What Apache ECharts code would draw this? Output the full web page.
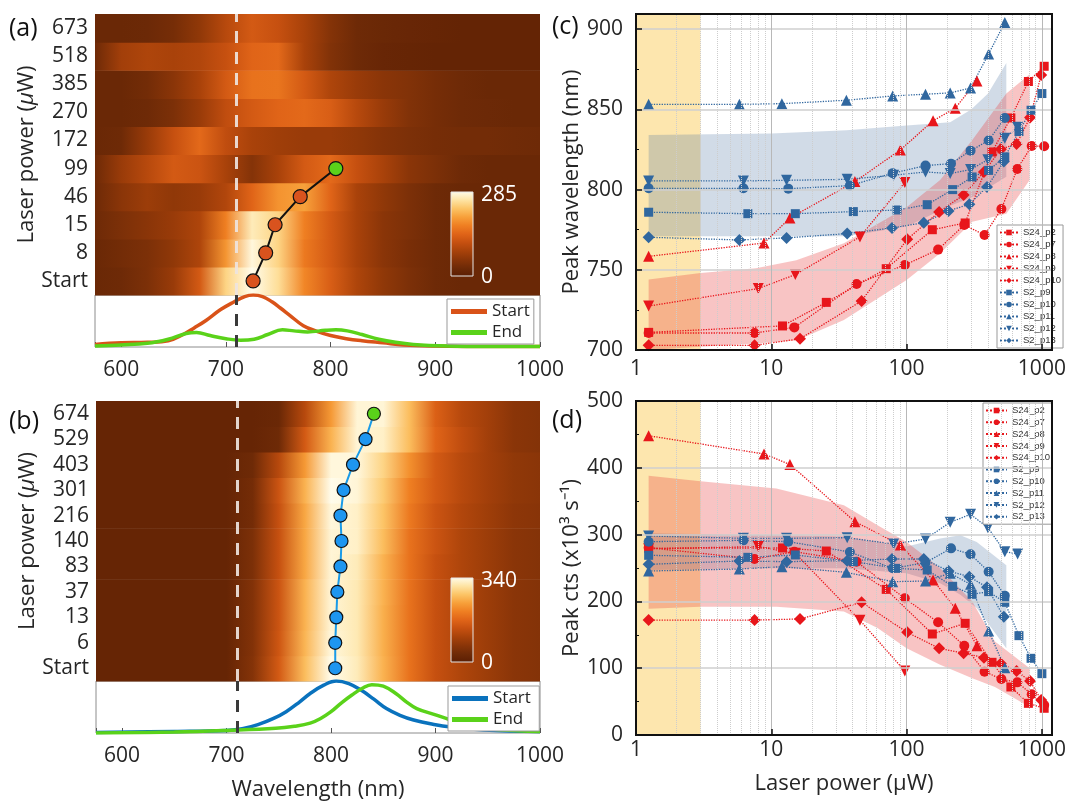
<!DOCTYPE html>
<html><head><meta charset="utf-8">
<script src="https://cdn.jsdelivr.net/npm/echarts/dist/echarts.min.js"></script>
<style>html,body{margin:0;padding:0;background:#fff}#chart{width:1068px;height:802px}</style>
</head><body><div id="chart"></div>
<script>
// ---------------- DATA ----------------
const WAVE = [575,600,625,650,675,700,725,750,775,800,825,850,875,900,925,950,975,1000];
// Panel (a): rows bottom -> top, intensity (cts) at WAVE samples
const ROWS_A = ['Start','8','15','46','99','172','270','385','518','673'];
const HEAT_A = [
  [23,29,43,71,128,242,285,251,177,134,91,63,43,29,23,23,23,23],
  [23,34,43,63,91,190,279,242,165,128,86,57,40,29,23,23,23,23],
  [29,43,57,71,91,171,265,242,171,128,86,57,43,29,23,23,23,23],
  [29,57,74,63,71,94,143,188,200,143,86,63,43,29,23,23,23,23],
  [29,71,100,128,120,86,51,86,128,148,114,86,57,43,29,23,23,23],
  [23,29,71,114,148,108,86,77,71,71,63,51,43,37,34,34,31,29],
  [23,23,29,43,71,108,128,143,148,134,100,71,48,37,29,26,23,23],
  [23,23,34,57,86,128,157,160,128,91,71,57,48,37,29,23,23,23],
  [29,80,91,86,94,114,143,148,86,48,29,20,17,14,14,14,14,14],
  [23,23,26,37,63,100,128,114,86,51,29,23,20,17,14,14,14,14]
];
const HEAT_A_MAX = 285;
// Panel (b)
const ROWS_B = ['Start','6','13','37','83','140','216','301','403','529','674'];
const HEAT_B = [
  [20,20,20,20,20,20,61,153,265,340,316,255,187,136,109,88,68,61],
  [20,20,20,20,20,20,58,146,258,333,313,252,187,136,109,88,68,61],
  [20,20,20,20,20,20,58,143,255,330,313,252,187,136,109,88,68,61],
  [20,20,20,20,20,20,58,143,255,330,313,255,187,136,109,88,68,61],
  [20,20,20,20,20,20,51,136,245,330,316,255,187,136,109,88,68,61],
  [20,20,20,20,20,20,51,136,245,330,323,265,187,143,109,88,68,61],
  [20,20,20,20,20,20,41,136,245,333,323,272,197,143,112,92,71,65],
  [20,20,20,20,20,20,41,143,255,340,330,279,204,153,119,95,75,68],
  [20,20,20,20,20,20,34,119,231,333,333,289,221,153,119,95,75,68],
  [20,20,20,20,20,20,20,34,153,255,330,323,265,170,129,95,68,61],
  [20,20,20,20,20,20,20,27,119,231,330,330,265,163,119,95,68,61]
];
const HEAT_B_MAX = 340;
// Peak markers on the maps
const MARK_A_WL = [726,738,747,771,805];
const MARK_B_WL = [804,804,805,806,809,810,809,812,821,833,841];
const DASH_WL = 710;
// Normalised spectra under the maps
const SPEC_A_START_WL = [575,600,625,645,660,670,681,695,708,718,726,735,744,752,761,774,787,800,815,830,850,870,900,950,1000];
const SPEC_A_START = [0.05,0.08,0.09,0.12,0.25,0.37,0.51,0.72,0.87,0.97,1.0,0.97,0.87,0.75,0.61,0.41,0.3,0.22,0.16,0.12,0.08,0.04,0.02,0.01,0.01];
const SPEC_A_END_WL = [575,600,625,645,662,672,685,700,714,727,740,754,765,778,795,805,816,830,846,862,879,912,950,1000];
const SPEC_A_END = [0.02,0.04,0.07,0.15,0.26,0.28,0.22,0.16,0.13,0.15,0.24,0.33,0.31,0.29,0.32,0.33,0.31,0.24,0.15,0.09,0.05,0.02,0.01,0.01];
const SPEC_B_START_WL = [575,650,700,715,730,745,757,770,780,793,805,817,829,841,853,866,879,900,913,946,1000];
const SPEC_B_START = [0.01,0.03,0.05,0.08,0.16,0.28,0.41,0.6,0.76,0.92,1.0,0.95,0.82,0.65,0.47,0.34,0.25,0.16,0.12,0.06,0.03];
const SPEC_B_END_WL = [575,650,700,747,765,780,790,800,810,820,830,839,850,862,872,882,900,913,928,945,961,1000];
const SPEC_B_END = [0.0,0.02,0.05,0.09,0.13,0.19,0.28,0.41,0.58,0.73,0.86,0.93,0.9,0.76,0.6,0.47,0.35,0.26,0.19,0.12,0.06,0.03];

// Panels (c)/(d): laser power (uW), peak wavelength (nm), peak cts (x10^3 s^-1)
const S24_p2_P   = [1.24,12.1,25.5,70.7,155,271,428,590,795,1040];
const S24_p2_WL  = [711,715,729.7,750.7,775,779.2,823.5,844.7,867.4,876.9];
const S24_p2_CTS = [279.4,280,275.4,218,151.2,167.2,108.8,71.9,47.4,40];
const S24_p7_P   = [1.24,7.52,14.8,42.7,97,171,267,377,502,658,841,1040];
const S24_p7_WL  = [710.6,710.6,714.1,741.2,753,762.6,778,771.7,787.9,812.9,827.2,827];
const S24_p7_CTS = [280.4,263.5,274.5,259.5,204.6,168.7,133.7,94.8,83.8,78.8,60.9,44.9];
const S24_p8_P   = [1.24,8.83,13.74,41.5,90,157,229,331];
const S24_p8_WL  = [758.4,766.7,782.3,805,824.7,843,850.7,867.8];
const S24_p8_CTS = [448,420.7,405,319.4,284.4,232,189.6,133.7];
const S24_p9_P   = [1.24,8.01,15.05,45.2,97];
const S24_p9_WL  = [727.4,738.3,747,770.5,804.4];
const S24_p9_CTS = [279,282,272,171.7,95.8];
const S24_p10_P   = [1.24,7.52,16.3,46.5,101,174,264,373,497,650,818,988];
const S24_p10_WL  = [702.9,702.9,707,730.6,769,786.1,796.7,811,825.2,828.5,845,871.5];
const S24_p10_CTS = [172,172,173.7,198.6,153.7,129.7,122.3,115.8,107,95.8,80.8,52.4];
const S2_p9_P   = [1.24,6.71,15.05,40.4,85,142,219,305,404,532,677,832,1000];
const S2_p9_WL  = [785.9,785,785,786.3,787.3,790.6,800,807.9,812,820.4,836.2,849.5,859.9];
const S2_p9_CTS = [269,266,269.5,259.5,249.5,247,222.6,210.6,214.6,198.6,148.7,114.8,91.8];
const S2_p10_P   = [1.24,6.22,13.35,38.1,78.9,138,213,297,404,532];
const S2_p10_WL  = [800.8,800.8,800.6,802.5,810.2,815,816.2,824.3,830.6,844.7];
const S2_p10_CTS = [289.4,291.4,289.4,274,249.5,258,279.4,270.5,244.5,208.6];
const S2_p11_P   = [1.24,5.81,11.97,35.9,78.9,138,210,297,404,532];
const S2_p11_WL  = [853.2,853.2,853.6,855.7,858.4,859.5,860.3,863.4,884.6,904.2];
const S2_p11_CTS = [245.5,248.5,252,243.5,229.5,230.5,242,225.5,155.7,100.8];
const S2_p12_P   = [1.24,6.22,12.97,36.4,80.2,138,210,297,399,532,662];
const S2_p12_WL  = [805.4,805.4,805.8,806.4,809,811,810,812.5,818.7,832,838.9];
const S2_p12_CTS = [297.9,294.4,294.4,295.4,285.9,293.4,318.4,330.3,310.4,274.5,271];
const S2_p13_P   = [1.24,5.81,12.97,36.4,78,134,204,291,393,523];
const S2_p13_WL  = [770.3,768.6,769.9,772.6,776.1,779.4,786.7,790.9,801.7,817.5];
const S2_p13_CTS = [255.5,260.5,259.5,261,263.5,263.5,245.5,237,221,177];
// Shaded spreads
const BAND_C_RED_P  = [1.24,3,7.7,15.3,34.4,100,177,306,546,812];
const BAND_C_RED_LO = [700,702,704,706,718.7,743.7,760.3,780,785,806];
const BAND_C_RED_HI = [744,748,751,756,766.5,789,806,831,860,872];
const BAND_C_BLUE_P  = [1.24,10,36,100,210,300,400,546];
const BAND_C_BLUE_LO = [771,771,771,777,790,795,801,808];
const BAND_C_BLUE_HI = [834,835,837,840,842,850,860,879];
const BAND_D_RED_P  = [1.24,3,10.9,34.4,61,100,177,306,450,812];
const BAND_D_RED_LO = [189,192,192,185,160,130,105,85,72,42];
const BAND_D_RED_HI = [388,380,369,344,314,289,250,200,140,100];
const BAND_D_BLUE_P  = [1.24,10.9,34.4,100,177,250,330,546];
const BAND_D_BLUE_LO = [247,249.5,249.5,242,227,210,190,130];
const BAND_D_BLUE_HI = [302,299,297,282,294,299,289,254];
const YELLOW_P = [1,3];
const X_MAJOR = [1,10,100,1000];

// ---------------- STYLE ----------------
const FONT = 'Open Sans';
const TXT = '#262626';
const RED = '#e8161b', BLUE = '#30679f';
const CMAP = [[0,'#5a1e03'],[0.1,'#6e2a07'],[0.2,'#8a3508'],[0.3,'#a8420a'],[0.4,'#c65010'],[0.5,'#e06418'],[0.6,'#ef7f22'],[0.7,'#f7a03a'],[0.8,'#fcc466'],[0.9,'#fee4a4'],[1,'#fffceb']];
function hex2rgb(h){return [parseInt(h.slice(1,3),16),parseInt(h.slice(3,5),16),parseInt(h.slice(5,7),16)];}
function cmap(f){
  f = Math.max(0, Math.min(1, f));
  for (let k = 1; k < CMAP.length; k++) {
    if (f <= CMAP[k][0]) {
      const t = (f - CMAP[k-1][0]) / (CMAP[k][0] - CMAP[k-1][0]);
      const a = hex2rgb(CMAP[k-1][1]), b = hex2rgb(CMAP[k][1]);
      return 'rgb(' + a.map((v,j) => Math.round(v + (b[j]-v)*t)).join(',') + ')';
    }
  }
  return CMAP[CMAP.length-1][1];
}
const W0 = WAVE[0], W1 = WAVE[WAVE.length-1];
function heatSeries(ax, rows, max){
  return {type:'custom', xAxisIndex:ax, yAxisIndex:ax, silent:true, z:1, animation:false,
    data: rows.map((r,i) => [W0, i]),
    renderItem: function(params, api){
      const i = params.dataIndex, row = rows[i];
      const p0 = api.coord([W0, i]), p1 = api.coord([W1, i]);
      const h = api.size([0,1])[1];
      return {type:'rect', shape:{x:p0[0], y:p0[1]-h/2, width:p1[0]-p0[0], height:h+0.6},
        style:{fill:{type:'linear', x:0, y:0, x2:1, y2:0,
          colorStops: WAVE.map((w,k) => ({offset:(w-W0)/(W1-W0), color:cmap(row[k]/max)}))}}};
    }};
}
function bandSeries(ax, P, lo, hi, color){
  return {type:'custom', xAxisIndex:ax, yAxisIndex:ax, silent:true, z:2, animation:false,
    data:[[P[0], lo[0]]],
    renderItem: function(params, api){
      const pts = [];
      for (let i = 0; i < P.length; i++) pts.push(api.coord([P[i], hi[i]]));
      for (let i = P.length-1; i >= 0; i--) pts.push(api.coord([P[i], lo[i]]));
      return {type:'polygon', shape:{points:pts}, style:{fill:color}};
    }};
}
const MINOR = [];
for (let d = 1; d <= 100; d *= 10) for (let m = 2; m <= 9; m++) MINOR.push(m*d);

const SER = [
  {name:'S24_p2', P:S24_p2_P, wl:S24_p2_WL, cts:S24_p2_CTS, color:RED, symbol:'rect', size:9},
  {name:'S24_p7', P:S24_p7_P, wl:S24_p7_WL, cts:S24_p7_CTS, color:RED, symbol:'circle', size:10},
  {name:'S24_p8', P:S24_p8_P, wl:S24_p8_WL, cts:S24_p8_CTS, color:RED, symbol:'triangle', size:11},
  {name:'S24_p9', P:S24_p9_P, wl:S24_p9_WL, cts:S24_p9_CTS, color:RED, symbol:'triangle', size:11, rot:180},
  {name:'S24_p10', P:S24_p10_P, wl:S24_p10_WL, cts:S24_p10_CTS, color:RED, symbol:'diamond', size:12},
  {name:'S2_p9', P:S2_p9_P, wl:S2_p9_WL, cts:S2_p9_CTS, color:BLUE, symbol:'rect', size:9},
  {name:'S2_p10', P:S2_p10_P, wl:S2_p10_WL, cts:S2_p10_CTS, color:BLUE, symbol:'circle', size:10},
  {name:'S2_p11', P:S2_p11_P, wl:S2_p11_WL, cts:S2_p11_CTS, color:BLUE, symbol:'triangle', size:11},
  {name:'S2_p12', P:S2_p12_P, wl:S2_p12_WL, cts:S2_p12_CTS, color:BLUE, symbol:'triangle', size:11, rot:180},
  {name:'S2_p13', P:S2_p13_P, wl:S2_p13_WL, cts:S2_p13_CTS, color:BLUE, symbol:'diamond', size:12}
];

// ---------------- AXES ----------------
const lbl = {fontSize:21, color:TXT, fontFamily:FONT};
function heatX(g){ return {type:'value', gridIndex:g, min:W0, max:W1, axisLabel:{show:false}, axisTick:{show:false}, axisLine:{show:false}, splitLine:{show:false}}; }
function specX(g, name){
  return {type:'value', gridIndex:g, min:W0, max:W1, splitNumber:5,
    axisLabel:Object.assign({margin:13, formatter:v => (v % 100 === 0 ? String(v) : '')}, lbl),
    axisTick:{inside:true, length:5, lineStyle:{color:'#555'}}, axisLine:{show:false}, splitLine:{show:false},
    name:name||'', nameLocation:'middle', nameGap:46, nameTextStyle:{fontSize:22, color:TXT, fontFamily:FONT}};
}
function heatY(g, rows){
  return {type:'category', gridIndex:g, data:rows,
    axisLabel:Object.assign({margin:7, interval:0}, lbl), axisTick:{show:false}, axisLine:{show:false},
    name:'Laser power ({i|\u03bc}W)', nameLocation:'middle', nameGap:56,
    nameTextStyle:{fontSize:22, color:TXT, fontFamily:FONT, rich:{i:{fontSize:22, fontStyle:'italic', color:TXT, fontFamily:FONT}}}};
}
function specY(g){ return {type:'value', gridIndex:g, min:0, max:1, show:false}; }
function logX(g, margin, name){
  return {type:'log', logBase:10, gridIndex:g, min:1, max:1188, z:5,
    axisLabel:Object.assign({margin:margin, formatter:v => (X_MAJOR.indexOf(Math.round(v)) >= 0 ? String(Math.round(v)) : '')}, lbl),
    axisTick:{inside:true, length:6, lineStyle:{color:'#111', width:1.5}},
    axisLine:{show:false},
    splitLine:{show:true, lineStyle:{color:'#b8b8b8', width:1}},
    name:name||'', nameLocation:'middle', nameGap:38, nameTextStyle:{fontSize:22, color:TXT, fontFamily:FONT}};
}
function valY(g, min, max, interval, name){
  return {type:'value', gridIndex:g, min:min, max:max, interval:interval, z:5,
    axisLabel:Object.assign({margin:13, formatter:v => (v % interval === 0 ? String(v) : '')}, lbl),
    axisTick:{inside:true, length:6, lineStyle:{color:'#111', width:1.5}},
    minorTick:{show:true, splitNumber:2, length:3, lineStyle:{color:'#111'}},
    axisLine:{show:false},
    splitLine:{show:true, lineStyle:{color:'#cfcfcf', width:1.5}},
    name:name, nameLocation:'middle', nameGap:52, nameTextStyle:{fontSize:22, color:TXT, fontFamily:FONT}};
}

// ---------------- SERIES ----------------
const series = [];
series.push(heatSeries(0, HEAT_A, HEAT_A_MAX));
series.push(heatSeries(2, HEAT_B, HEAT_B_MAX));
function markerLine(ax, wl, lineColor, fill, size){
  return {type:'line', xAxisIndex:ax, yAxisIndex:ax, z:4, animation:false, silent:true,
    data: wl.map((w,i) => {
      const it = {value:[w, i]};
      if (i === wl.length-1) it.itemStyle = {color:'#5ad21a'};
      return it;
    }),
    symbol:'circle', symbolSize:size, showSymbol:true,
    lineStyle:{color:lineColor, width:2}, itemStyle:{color:fill, borderColor:'#111', borderWidth:1.2},
    markLine:{silent:true, symbol:['none','none'], label:{show:false}, animation:false,
      lineStyle:{color:'rgba(238,228,222,0.92)', type:[12,9], width:3}, data:[{xAxis:DASH_WL}]}};
}
series.push(markerLine(0, MARK_A_WL, '#111', '#d9531e', 14));
series.push(markerLine(2, MARK_B_WL, '#1a9be8', '#1e96f0', 13));
function specLine(ax, name, wls, vals, color, dash){
  const s = {name:name, type:'line', xAxisIndex:ax, yAxisIndex:ax, smooth:0.4, symbol:'none', z:3, animation:false,
    data: wls.map((w,i) => [w, vals[i]]), lineStyle:{color:color, width:3.5}, itemStyle:{color:color}};
  if (dash) s.markLine = {silent:true, symbol:['none','none'], label:{show:false}, animation:false,
    lineStyle:{color:'#3a3a3a', type:[12,9], width:3}, data:[{xAxis:DASH_WL}]};
  return s;
}
series.push(specLine(1, 'Start', SPEC_A_START_WL, SPEC_A_START, '#d95319', true));
series.push(specLine(1, 'End', SPEC_A_END_WL, SPEC_A_END, '#5ad21a', false));
series.push(specLine(3, 'Start ', SPEC_B_START_WL, SPEC_B_START, '#0a72bd', true));
series.push(specLine(3, 'End ', SPEC_B_END_WL, SPEC_B_END, '#5ad21a', false));

[4,5].forEach(ax => {
  series.push({type:'line', xAxisIndex:ax, yAxisIndex:ax, data:[], silent:true, z:1, animation:false,
    markArea:{silent:true, itemStyle:{color:'#fde6ae'}, data:[[{xAxis:YELLOW_P[0]},{xAxis:YELLOW_P[1]}]]},
    markLine:{silent:true, symbol:['none','none'], label:{show:false}, animation:false,
      lineStyle:{color:'#cdcdcd', type:'dotted', width:1}, data: MINOR.map(v => ({xAxis:v}))}});
});
series.push(bandSeries(4, BAND_C_BLUE_P, BAND_C_BLUE_LO, BAND_C_BLUE_HI, 'rgba(70,110,160,0.25)'));
series.push(bandSeries(4, BAND_C_RED_P, BAND_C_RED_LO, BAND_C_RED_HI, 'rgba(232,60,60,0.3)'));
series.push(bandSeries(5, BAND_D_BLUE_P, BAND_D_BLUE_LO, BAND_D_BLUE_HI, 'rgba(70,110,160,0.25)'));
series.push(bandSeries(5, BAND_D_RED_P, BAND_D_RED_LO, BAND_D_RED_HI, 'rgba(232,60,60,0.3)'));
SER.forEach(s => {
  [4,5].forEach(ax => {
    series.push({name:s.name, type:'line', xAxisIndex:ax, yAxisIndex:ax, z:3, animation:false,
      data: s.P.map((p,i) => [p, ax === 4 ? s.wl[i] : s.cts[i]]),
      symbol:s.symbol, symbolRotate:s.rot||0, symbolSize:s.size, showSymbol:true,
      lineStyle:{color:s.color, width:1.3, type:'dotted'}, itemStyle:{color:s.color},
      emphasis:{disabled:true}});
  });
});

// ---------------- COLORBARS / LABELS ----------------
function colorbar(x, y, w, h, maxText){
  return [
    {type:'rect', shape:{x:x, y:y, width:w, height:h}, z:50,
      style:{fill:{type:'linear', x:0, y:1, x2:0, y2:0, colorStops:CMAP.map(c => ({offset:c[0], color:c[1]}))}, stroke:'#e6e6e6', lineWidth:1}},
    {type:'text', x:x+w+8, y:y+3, z:50, style:{text:maxText, fill:'#fff', fontSize:21, fontFamily:FONT, verticalAlign:'middle'}},
    {type:'text', x:x+w+8, y:y+h+1, z:50, style:{text:'0', fill:'#fff', fontSize:21, fontFamily:FONT, verticalAlign:'middle'}}
  ];
}
const graphics = [].concat(
  colorbar(451, 192, 22, 84, String(HEAT_A_MAX)),
  colorbar(451, 578, 22, 84, String(HEAT_B_MAX)),
  [
    {type:'text', x:9, y:16, style:{text:'(a)', fill:'#111', fontSize:25, fontFamily:FONT}},
    {type:'text', x:9, y:409, style:{text:'(b)', fill:'#111', fontSize:25, fontFamily:FONT}},
    {type:'text', x:552, y:14, style:{text:'(c)', fill:'#111', fontSize:25, fontFamily:FONT}},
    {type:'text', x:552, y:408, style:{text:'(d)', fill:'#111', fontSize:25, fontFamily:FONT}}
  ]
);

const legStyle = {fontSize:9.5, lineHeight:11, color:'#333', fontFamily:'Liberation Sans'};
const specLeg = {orient:'vertical', icon:'rect', itemWidth:36, itemHeight:5, itemGap:4,
  padding:[4,4,3,4], borderColor:'#999', borderWidth:1, backgroundColor:'#fff', selectedMode:false,
  textStyle:{fontSize:17, color:TXT, fontFamily:FONT}};
const option = {
  animation:false,
  textStyle:{fontFamily:FONT},
  grid:[
    {left:95, top:14, width:445, height:281, outerBoundsMode:'none'},
    {left:95, top:295, width:445, height:52, show:true, borderColor:'#8c8c8c', borderWidth:1, outerBoundsMode:'none'},
    {left:96, top:401, width:444, height:280, outerBoundsMode:'none'},
    {left:96, top:681, width:444, height:52, show:true, borderColor:'#8c8c8c', borderWidth:1, outerBoundsMode:'none'},
    {left:636, top:14, width:416, height:336, show:true, borderColor:'#111', borderWidth:2, z:10, outerBoundsMode:'none'},
    {left:636, top:401, width:416, height:334, show:true, borderColor:'#111', borderWidth:2, z:10, outerBoundsMode:'none'}
  ],
  xAxis:[
    heatX(0),
    specX(1),
    heatX(2),
    specX(3, 'Wavelength (nm)'),
    logX(4, 9),
    logX(5, 5, 'Laser power (\u03bcW)')
  ],
  yAxis:[
    heatY(0, ROWS_A),
    specY(1),
    heatY(2, ROWS_B),
    specY(3),
    valY(4, 700, 909.5, 50, 'Peak wavelength (nm)'),
    valY(5, 0, 500, 100, 'Peak cts (x10\u00b3 s\u207b\u00b9)')
  ],
  legend:[
    Object.assign({data:['Start','End'], left:447, top:299}, specLeg),
    Object.assign({data:['Start ','End '], left:448, top:686}, specLeg),
    {data:SER.map(s => s.name), left:997, top:225, orient:'vertical', itemWidth:18, itemHeight:7, itemGap:1,
      padding:[2,2,2,2], borderColor:'#999', borderWidth:1, backgroundColor:'#fff', selectedMode:false, textStyle:legStyle},
    {data:SER.map(s => s.name), left:983, top:403, orient:'vertical', itemWidth:21, itemHeight:7, itemGap:0.8,
      padding:[2,2,2,2], borderColor:'#999', borderWidth:1, backgroundColor:'#fff', selectedMode:false, textStyle:legStyle}
  ],
  graphic: graphics,
  series: series
};
const chart = echarts.init(document.getElementById('chart'), null, {renderer:'canvas'});
chart.setOption(option);
</script></body></html>
